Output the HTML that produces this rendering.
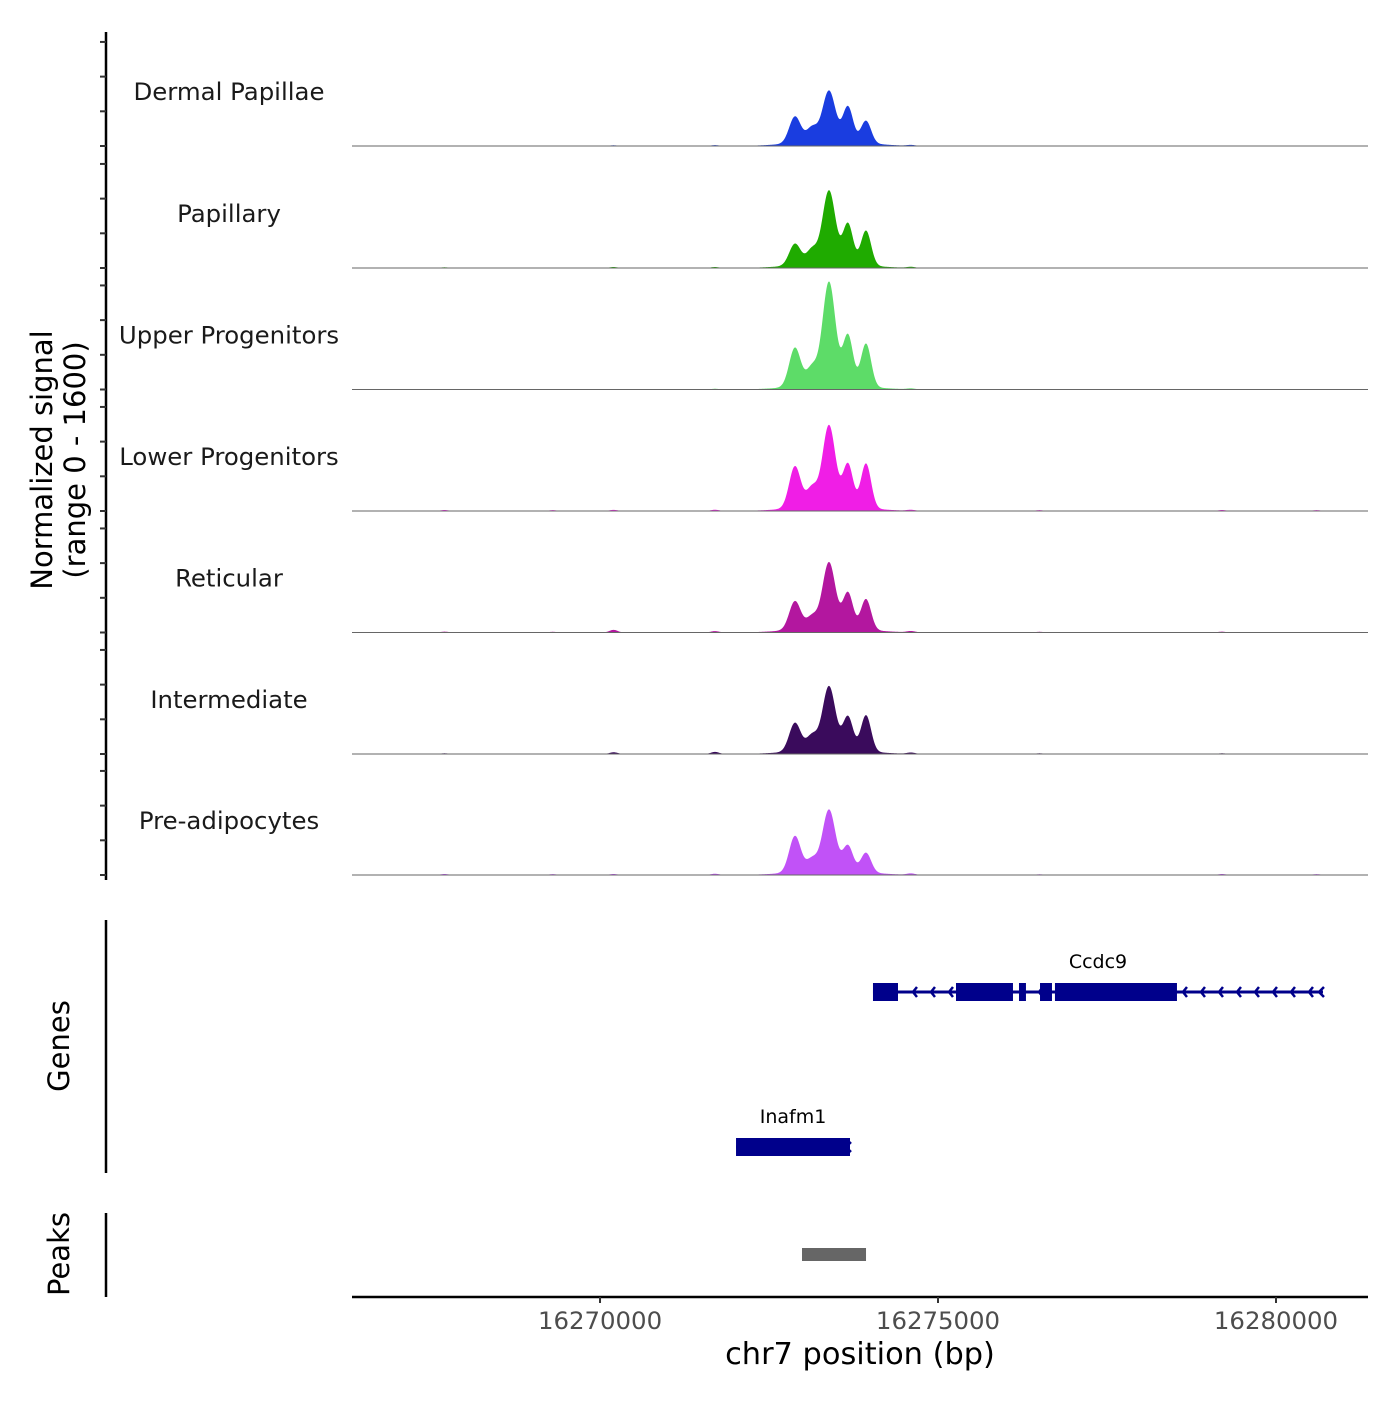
<!DOCTYPE html>
<html><head><meta charset="utf-8"><style>
body{margin:0;background:#fff}
svg text{font-family:"DejaVu Sans","Liberation Sans",sans-serif}
</style></head><body>
<svg id="c" width="1400" height="1400" viewBox="0 0 1400 1400" xmlns="http://www.w3.org/2000/svg"></svg>
<script>
const xDomain=[16266331,16281361];
const xTicks=[16270000,16275000,16280000];
const trackNames=["Dermal Papillae","Papillary","Upper Progenitors","Lower Progenitors","Reticular","Intermediate","Pre-adipocytes"];
const trackColors=["#1a3de0","#1fab00","#5ddc68","#f01ee6","#b3179f","#3a0b5c","#c152f7"];
const peakCenters=[16272884,16273136,16273387,16273668,16273935];
const peakWidths=[85,80,95,75,75];
const dermalHeights=[380,200,720,500,320];
const papillaryHeights=[310,210,1050,580,500];
const upperHeights=[560,260,1480,720,620];
const lowerHeights=[600,270,1160,610,640];
const reticularHeights=[410,170,940,510,440];
const intermediateHeights=[410,210,910,480,520];
const preadipHeights=[520,170,870,360,280];
const baseHeights=[80,70,75,80,75,70,75];
const bgBumps=[16267700,16269300,16270200,16271700,16274600,16276500,16279200,16280600];
const bgHeights=[[8,6,10,12,12,6,8,6],[10,8,14,14,14,8,6,6],[6,6,8,10,12,6,6,6],[14,12,16,18,14,12,14,12],[12,10,38,20,18,10,12,8],[10,8,25,30,18,10,10,8],[14,12,14,18,20,10,14,12]];
const allHeights=[dermalHeights,papillaryHeights,upperHeights,lowerHeights,reticularHeights,intermediateHeights,preadipHeights];
const genes=[{name:"Ccdc9",start:16274038,end:16280695,row:0,exons:[[16274038,16274408],[16275266,16276109],[16276198,16276301],[16276509,16276686],[16276730,16278535]]},
{name:"Inafm1",start:16272012,end:16273698,row:1,exons:[[16272012,16273698]]}];
const peaks=[[16272988,16273935]];
const ymax=1600;

const NS="http://www.w3.org/2000/svg";
const svg=document.getElementById('c');
const X0=352,X1=1368;
const xs=v=>X0+(v-xDomain[0])/(xDomain[1]-xDomain[0])*(X1-X0);
const baseLines=[146,268,389.5,511,632.5,754,875];
const ypx=111/ymax;
function mk(tag,attrs,parent){const e=document.createElementNS(NS,tag);for(const k in attrs)e.setAttribute(k,attrs[k]);(parent||svg).appendChild(e);return e;}

let ax=mk('line',{x1:106,y1:32,x2:106,y2:880,stroke:'#000','stroke-width':2.5});


baseLines.forEach(b=>{[0,500,1000,1500].forEach(v=>{const y=b-v*ypx;const t=mk('line',{x1:100,y1:y,x2:106,y2:y,stroke:'#333','stroke-width':2});

});});

trackNames.forEach((nm,i)=>{
  const b=baseLines[i];const h=allHeights[i];
  let d='M'+X0+','+b;
  for(let px=X0;px<=X1;px+=0.5){
    const bp=xDomain[0]+(px-X0)/(X1-X0)*(xDomain[1]-xDomain[0]);
    let s=0;
    peakCenters.forEach((c,k)=>{const z=(bp-c)/peakWidths[k];s+=h[k]*Math.exp(-z*z/2);});
    const zb=(bp-16273400)/500;s+=baseHeights[i]*Math.exp(-zb*zb/2);
    bgBumps.forEach((c,k)=>{const z=(bp-c)/60;s+=bgHeights[i][k]*Math.exp(-z*z/2);});
    d+=' L'+px.toFixed(1)+','+(b-Math.min(s,ymax)*ypx).toFixed(2);
  }
  d+=' L'+X1+','+b+' Z';
  const p=mk('path',{d:d,fill:trackColors[i]});
  
  
  const bl=mk('line',{x1:X0,y1:b,x2:X1,y2:b,stroke:'#666','stroke-width':1});
  
  
  const t=mk('text',{x:229,y:b-46,'text-anchor':'middle','font-size':24.4,fill:'#1a1a1a'});t.textContent=nm;
  
  
});

const yt=mk('text',{transform:'translate(52,460) rotate(-90)','text-anchor':'middle','font-size':29,fill:'#000'});


mk('tspan',{x:0,dy:0},yt).textContent='Normalized signal';
mk('tspan',{x:0,dy:33},yt).textContent='(range 0 - 1600)';

let ga=mk('line',{x1:106,y1:920,x2:106,y2:1173,stroke:'#000','stroke-width':2.5});


let gt=mk('text',{transform:'translate(69,1046) rotate(-90)','text-anchor':'middle','font-size':29});gt.textContent='Genes';


const rowY=[992,1147];
genes.forEach(g=>{
  const y=rowY[g.row];const grp=mk('g',{});
  
  
  mk('line',{x1:xs(g.start),y1:y,x2:xs(g.end),y2:y,stroke:'#00008b','stroke-width':3},grp);
  for(let px=xs(g.start)+40;px<xs(g.end)-4;px+=18){
    mk('polyline',{points:(px+4)+','+(y-5)+' '+px+','+y+' '+(px+4)+','+(y+5),fill:'none',stroke:'#00008b','stroke-width':2.5},grp);
  }
  mk('polyline',{points:(xs(g.end)+1)+','+(y-5)+' '+(xs(g.end)-4)+','+y+' '+(xs(g.end)+1)+','+(y+5),fill:'none',stroke:'#00008b','stroke-width':2.5},grp);
  g.exons.forEach(e=>{mk('rect',{x:xs(e[0]),y:y-9,width:xs(e[1])-xs(e[0]),height:18,fill:'#00008b'},grp);});
  const t=mk('text',{x:(xs(g.start)+xs(g.end))/2,y:y-24,'text-anchor':'middle','font-size':19,fill:'#000'},grp);
  t.textContent=g.name;
});
let pa=mk('line',{x1:106,y1:1213,x2:106,y2:1297,stroke:'#000','stroke-width':2.5});


let pt=mk('text',{transform:'translate(69,1254) rotate(-90)','text-anchor':'middle','font-size':29});pt.textContent='Peaks';


peaks.forEach(p=>{const r=mk('rect',{x:xs(p[0]),y:1248,width:xs(p[1])-xs(p[0]),height:13,fill:'#666'});

});
let xa=mk('line',{x1:X0,y1:1297,x2:X1,y2:1297,stroke:'#000','stroke-width':2.5});


xTicks.forEach(v=>{
  const tk=mk('line',{x1:xs(v),y1:1297,x2:xs(v),y2:1303,stroke:'#333','stroke-width':2});
  
  
  const t=mk('text',{x:xs(v),y:1329,'text-anchor':'middle','font-size':24.4,fill:'#4d4d4d'});t.textContent=String(v);
  
  
});
let xt=mk('text',{x:860,y:1364,'text-anchor':'middle','font-size':30.4,fill:'#000'});xt.textContent='chr7 position (bp)';


</script>
</body></html>
